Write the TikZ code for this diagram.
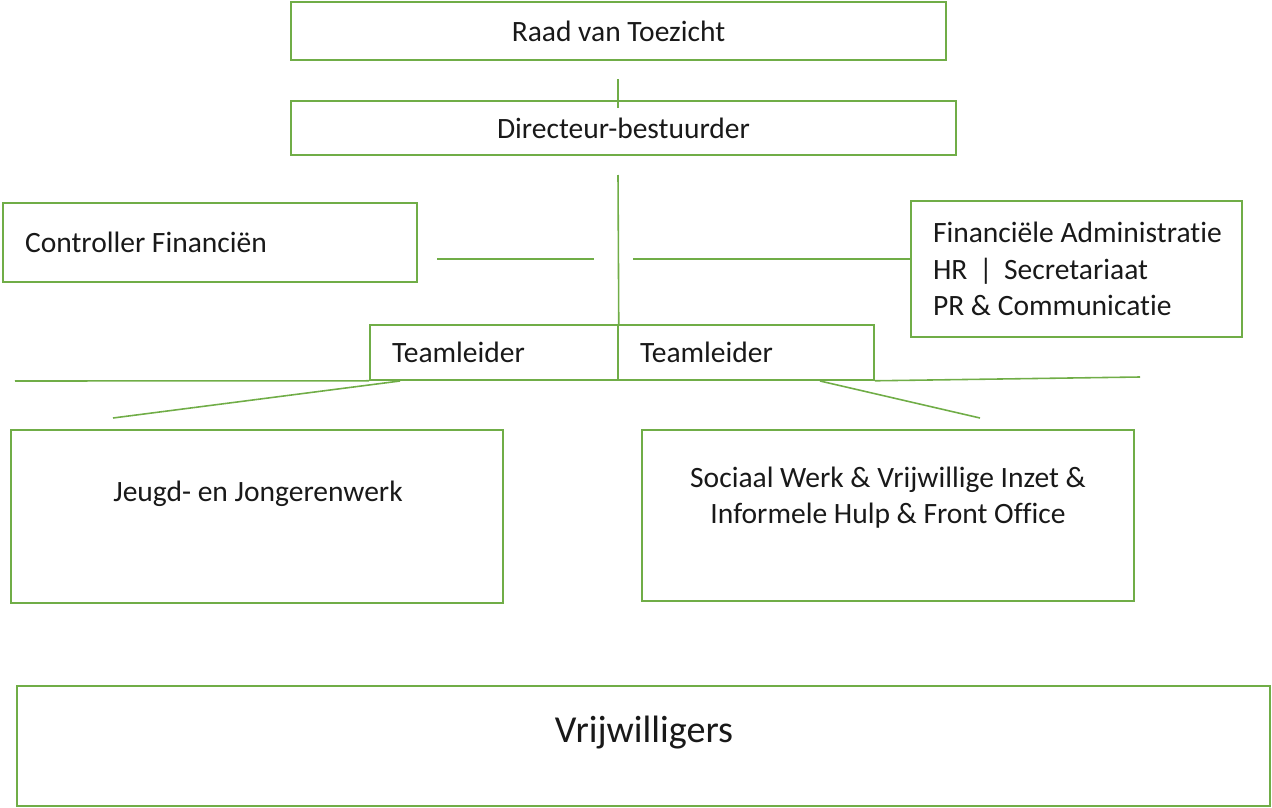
\documentclass[tikz,border=0pt]{standalone}
\usepackage{fontspec}
\setmainfont{Carlito}[Ligatures=NoCommon]
\definecolor{orggreen}{HTML}{70AD47}
\tikzset{
  box/.style={draw=orggreen, line width=0.9pt, rectangle, inner sep=0pt, text=black!90, font=\fontsize{16.8}{20.7}\selectfont},
  leftbox/.style={box, align=flush left, inner xsep=0.44cm},
  link/.style={draw=orggreen, line width=0.9pt}
}
\begin{document}
\begin{tikzpicture}[x=0.02cm, y=-0.02cm]
\useasboundingbox (0,0) rectangle (1272,808);

%% Top
\node[box, minimum width=13.1cm, minimum height=1.16cm] (raad) at (618.5,31) {Raad van Toezicht};
\node[box, minimum width=13.3cm, minimum height=1.08cm] (dir) at (623.5,128) {Directeur-bestuurder};

%% Staff
\node[leftbox, text width=7.40cm, minimum height=1.58cm] (contr) at (210,242.5) {Controller Financiën};
\node[leftbox, text width=5.74cm, minimum height=2.72cm] (admin) at (1076.5,269) {\mbox{Financiële Administratie}\\HR \,|\, Secretariaat\\PR \& Communicatie};

%% Teamleiders
\node[leftbox, text width=4.08cm, minimum height=1.1cm] (tlA) at (494,352.5) {Teamleider};
\node[leftbox, text width=4.24cm, minimum height=1.1cm] (tlB) at (746,352.5) {Teamleider};

%% Teams
\node[box, minimum width=9.84cm, minimum height=3.46cm] (jeugd) at (257,516.5) {};
\node[box, draw=none] (jeugdtxt) at (258,494) {Jeugd- en Jongerenwerk};
\node[box, minimum width=9.84cm, minimum height=3.42cm] (sociaal) at (888,515.5) {};
\node[box, draw=none, align=center] (sociaaltxt) at (888,497.5) {Sociaal Werk \& Vrijwillige Inzet \&\\Informele Hulp \& Front Office};

%% Volunteers
\node[box, minimum width=25.06cm, minimum height=2.4cm] (vrijw) at (643.5,746) {};
\node[box, draw=none, font=\fontsize{21.7}{26}\selectfont] (vrijwtxt) at (644,733) {Vrijwilligers};

%% Lines
\coordinate (a1) at (618,79);
\coordinate (a2) at (618,108);
\coordinate (b1) at (618,175);
\coordinate (c1) at (437,259);
\coordinate (c2) at (594,259);
\coordinate (d1) at (633,259);
\coordinate (e1) at (15,381);
\coordinate (e2) at (1140,377);
\coordinate (f1) at (400,381);
\coordinate (f2) at (113,418);
\coordinate (g1) at (820,381);
\coordinate (g2) at (980,418);

\draw[link] (a1) -- (a2);
\draw[link] (b1) -- (tlA.north east);
\draw[link] (c1) -- (c2);
\draw[link] (d1) -- (d1 -| admin.west);
\draw[link] (e1) -- (tlA.south west);
\draw[link] (tlB.south east) -- (e2);
\draw[link] (f1) -- (f2);
\draw[link] (g1) -- (g2);

\end{tikzpicture}
\end{document}
